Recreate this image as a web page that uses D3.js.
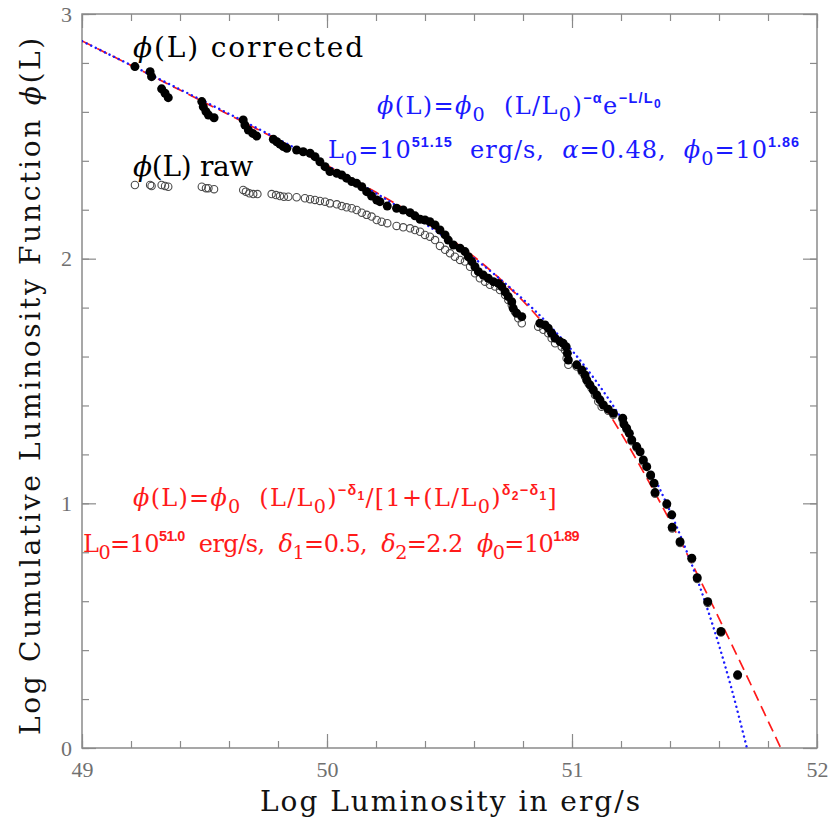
<!DOCTYPE html>
<html><head><meta charset="utf-8">
<script src="https://cdn.jsdelivr.net/npm/d3@7"></script>
<style>body{margin:0;background:#fff}text{white-space:pre}</style>
</head><body>
<svg id="c" width="829" height="821"></svg>
<script>
// ---- data (log L, log cumulative phi) ----
const lumCorr = [49.216,49.278,49.284,49.325,49.339,49.352,49.489,49.495,49.506,49.516,49.539,49.658,49.665,49.679,49.697,49.713,49.781,49.795,49.808,49.822,49.836,49.876,49.903,49.931,49.951,49.971,49.992,50.012,50.040,50.060,50.080,50.101,50.121,50.142,50.162,50.182,50.203,50.216,50.246,50.284,50.311,50.339,50.359,50.380,50.400,50.420,50.441,50.461,50.482,50.495,50.516,50.543,50.563,50.577,50.591,50.604,50.618,50.638,50.658,50.679,50.699,50.713,50.727,50.740,50.754,50.760,50.774,50.795,50.869,50.890,50.903,50.917,50.931,50.951,50.964,50.976,50.981,50.985,51.019,51.040,51.053,51.060,51.073,51.087,51.101,51.114,51.128,51.148,51.169,51.207,51.212,51.223,51.234,51.244,51.264,51.278,51.291,51.305,51.321,51.335,51.339,51.387,51.407,51.409,51.441,51.489,51.511,51.554,51.608,51.676];
const phiCorr = [2.785,2.764,2.744,2.694,2.676,2.658,2.642,2.621,2.601,2.587,2.576,2.567,2.546,2.526,2.512,2.501,2.488,2.478,2.468,2.458,2.451,2.444,2.437,2.431,2.417,2.396,2.376,2.356,2.349,2.342,2.329,2.315,2.308,2.294,2.274,2.256,2.240,2.233,2.215,2.206,2.199,2.188,2.175,2.161,2.158,2.151,2.138,2.117,2.097,2.076,2.056,2.043,2.029,2.008,1.988,1.967,1.947,1.933,1.920,1.906,1.899,1.886,1.865,1.845,1.824,1.797,1.777,1.763,1.736,1.729,1.716,1.695,1.675,1.661,1.654,1.640,1.613,1.586,1.566,1.545,1.525,1.504,1.484,1.463,1.443,1.423,1.402,1.385,1.368,1.348,1.324,1.307,1.286,1.259,1.232,1.211,1.177,1.150,1.116,1.082,1.044,0.998,0.953,0.902,0.843,0.776,0.696,0.598,0.476,0.299];
const lumRaw = [49.216,49.278,49.284,49.325,49.339,49.352,49.489,49.506,49.516,49.539,49.658,49.669,49.683,49.699,49.716,49.774,49.792,49.808,49.824,49.842,49.876,49.910,49.931,49.951,49.971,49.992,50.012,50.040,50.060,50.080,50.101,50.121,50.142,50.162,50.182,50.203,50.223,50.246,50.284,50.311,50.339,50.359,50.380,50.400,50.420,50.441,50.461,50.482,50.502,50.522,50.543,50.563,50.584,50.604,50.624,50.645,50.665,50.686,50.706,50.727,50.740,50.754,50.767,50.781,50.795,50.862,50.883,50.903,50.917,50.931,50.958,50.971,50.978,50.985,51.019,51.040,51.053,51.067,51.080,51.094,51.107,51.121,51.148,51.169,51.207,51.223,51.244,51.264,51.291,51.321,51.339,51.387,51.409,51.441,51.489,51.511,51.554,51.608,51.676];
const phiRaw = [2.301,2.301,2.297,2.301,2.297,2.294,2.294,2.288,2.288,2.284,2.281,2.274,2.267,2.264,2.264,2.264,2.260,2.256,2.253,2.253,2.251,2.247,2.243,2.240,2.236,2.233,2.226,2.222,2.215,2.210,2.206,2.199,2.188,2.179,2.172,2.158,2.151,2.145,2.134,2.128,2.124,2.117,2.110,2.097,2.090,2.076,2.052,2.036,2.022,2.008,1.995,1.988,1.967,1.940,1.920,1.906,1.893,1.886,1.872,1.852,1.831,1.811,1.783,1.756,1.736,1.722,1.709,1.695,1.675,1.654,1.640,1.627,1.593,1.566,1.559,1.538,1.518,1.491,1.470,1.443,1.416,1.395,1.378,1.362,1.341,1.302,1.254,1.227,1.171,1.112,1.039,0.994,0.897,0.838,0.771,0.691,0.593,0.472,0.295];
// fitted curves as drawn (exponential cut-off: blue; broken power law: red)
const fitExpL   = [49.0,49.2,49.4,49.6,49.8,50.0,50.1,50.2,50.3,50.4,50.5,50.6,50.7,50.8,50.9,51.0,51.1,51.2,51.25,51.3,51.35,51.4,51.45,51.5,51.55,51.6,51.65,51.7,51.714];
const fitExpPhi = [2.889,2.791,2.692,2.592,2.489,2.381,2.325,2.267,2.207,2.143,2.075,2.002,1.922,1.834,1.736,1.625,1.497,1.349,1.265,1.175,1.076,0.968,0.849,0.720,0.577,0.420,0.247,0.055,0.0];
const fitBplL   = [49.0,49.2,49.4,49.6,49.8,50.0,50.1,50.2,50.3,50.4,50.5,50.6,50.7,50.8,50.9,51.0,51.1,51.2,51.3,51.4,51.5,51.6,51.7,51.8,51.852];
const fitBplPhi = [2.890,2.790,2.689,2.588,2.486,2.381,2.327,2.271,2.213,2.150,2.083,2.008,1.923,1.827,1.716,1.589,1.446,1.287,1.113,0.928,0.733,0.530,0.323,0.111,0.0];
const xTicks = [49,50,51,52];
const yTicks = [0,1,2,3];
const xTitle = "Log Luminosity in erg/s";
const PHI = "\u03d5";

// ---- layout ----
const W = 829, H = 821;
const m = {l:82, r:12, t:14, b:73};
const svg = d3.select('#c');
const x = d3.scaleLinear().domain([49,52]).range([m.l, W-m.r]);
const y = d3.scaleLinear().domain([0,3]).range([H-m.b, m.t]);
const axisCol = '#8a8a8a';
const serif = 'DejaVu Serif';

svg.append('clipPath').attr('id','clip').append('rect')
  .attr('x',m.l).attr('y',m.t).attr('width',W-m.l-m.r).attr('height',H-m.t-m.b);

// minor ticks
const xMinor = d3.range(49,52.001,0.2).map(v=>+v.toFixed(2));
const yMinor = d3.range(0,3.001,0.2).map(v=>+v.toFixed(2));
function drawAxis(axisGen, tr, vals, size, fmt) {
  const g = svg.append('g').attr('transform',tr)
    .call(axisGen.tickValues(vals).tickSize(size).tickFormat(fmt||''));
  g.select('.domain').remove();
  g.selectAll('line').attr('stroke',axisCol).attr('stroke-width',1.2);
  return g;
}
const bottomY = H-m.b, rightX = W-m.r;
drawAxis(d3.axisBottom(x), `translate(0,${bottomY})`, xMinor, -7);
drawAxis(d3.axisTop(x), `translate(0,${m.t})`, xMinor, -7);
drawAxis(d3.axisLeft(y), `translate(${m.l},0)`, yMinor, -7);
drawAxis(d3.axisRight(y), `translate(${rightX},0)`, yMinor, -7);
const gxb = drawAxis(d3.axisBottom(x), `translate(0,${bottomY})`, xTicks, -14, d3.format('d'));
drawAxis(d3.axisTop(x), `translate(0,${m.t})`, xTicks, -14);
const gyl = drawAxis(d3.axisLeft(y), `translate(${m.l},0)`, yTicks, -14, d3.format('d'));
drawAxis(d3.axisRight(y), `translate(${rightX},0)`, yTicks, -14);
gxb.selectAll('text').attr('y',13).attr('dy','0.71em')
  .style('font-family','Liberation Serif').style('font-size','22px').attr('fill','#707070');
gyl.selectAll('text').attr('x',-10)
  .style('font-family','Liberation Serif').style('font-size','22px').attr('fill','#707070');

svg.append('rect').attr('x',m.l).attr('y',m.t).attr('width',W-m.l-m.r).attr('height',H-m.t-m.b)
  .attr('fill','none').attr('stroke',axisCol).attr('stroke-width',1.5);

// fitted lines
const plot = svg.append('g').attr('clip-path','url(#clip)');
const line = d3.line().x(d=>x(d[0])).y(d=>y(d[1])).curve(d3.curveMonotoneX);
plot.append('path').datum(fitBplL.map((v,i)=>[v,fitBplPhi[i]]))
  .attr('d',line).attr('fill','none').attr('stroke','#ff1a1a').attr('stroke-width',1.7)
  .attr('stroke-dasharray','11,6');
plot.append('path').datum(fitExpL.map((v,i)=>[v,fitExpPhi[i]]))
  .attr('d',line).attr('fill','none').attr('stroke','#1a1aff').attr('stroke-width',2.4)
  .attr('stroke-linecap','round').attr('stroke-dasharray','0.1,5');

// raw points (open)
plot.append('g').selectAll('circle').data(lumRaw.map((v,i)=>[v,phiRaw[i]])).join('circle')
  .attr('cx',d=>x(d[0])).attr('cy',d=>y(d[1])).attr('r',3.7)
  .attr('fill','none').attr('stroke','#4a4a4a').attr('stroke-width',1.1);
// corrected points (filled)
plot.append('g').selectAll('circle').data(lumCorr.map((v,i)=>[v,phiCorr[i]])).join('circle')
  .attr('cx',d=>x(d[0])).attr('cy',d=>y(d[1])).attr('r',4.5).attr('fill','#000');

// ---- rich text helper ----
function rich(sel, segs, size, color, target) {
  const t = sel.attr('fill',color).style('font-family',serif).style('font-size',size+'px');
  let cur = 0;
  const offs = {n:0, it:0, sub:0.3, sup:-0.45, ssub:-0.25};
  const sizes = {n:1, it:1, sub:0.8, sup:0.6, ssub:0.5};
  segs.forEach(([str, kind]) => {
    kind = kind || 'n';
    const off = offs[kind]*size;
    const sp = t.append('tspan').attr('dy', off-cur).style('font-size',(sizes[kind]*size)+'px').text(str);
    if (kind==='sup' || kind==='ssub') sp.style('font-family','Liberation Sans').style('font-weight','bold');
    if (kind==='it') sp.style('font-style','italic');
    cur = off;
  });
  if (target) fit(t, target);
  return t;
}
function at(x0,y0){ return svg.append('text').attr('x',x0).attr('y',y0); }
function fit(t, target) {
  const w = t.node().getComputedTextLength();
  const n = t.text().length;
  if (n>1) t.style('letter-spacing', ((target-w)/n)+'px');
}

rich(at(133, 57), [[PHI,'it'],['(L) corrected']], 28, '#000', 232);
rich(at(133, 176), [[PHI,'it'],['(L) raw']], 28, '#000', 120);

rich(at(377, 114), [[PHI,'it'],['(L)='],[PHI,'it'],['0','sub'],['  (L/L'],['0','sub'],[')'],['\u2212\u03b1','sup'],['e'],['\u2212L/L','sup'],['0','ssub']], 24, '#1a1aff', 285);
rich(at(328, 158), [['L'],['0','sub'],['=10'],['51.15','sup'],['  erg/s,  '],['\u03b1','it'],['=0.48,  '],[PHI,'it'],['0','sub'],['=10'],['1.86','sup']], 24, '#1a1aff', 472);

rich(at(133, 506), [[PHI,'it'],['(L)='],[PHI,'it'],['0','sub'],['  (L/L'],['0','sub'],[')'],['\u2212\u03b4','sup'],['1','ssub'],['/[1+(L/L'],['0','sub'],[')'],['\u03b4','sup'],['2','ssub'],['\u2212\u03b4','sup'],['1','ssub'],[']']], 24, '#ff1a1a', 425);
rich(at(83, 552), [['L'],['0','sub'],['=10'],['51.0','sup'],['  erg/s,  '],['\u03b4','it'],['1','sub'],['=0.5,  '],['\u03b4','it'],['2','sub'],['=2.2  '],[PHI,'it'],['0','sub'],['=10'],['1.89','sup']], 24, '#ff1a1a', 496);

// axis titles
const xt = svg.append('text').attr('x',451).attr('y',811).attr('text-anchor','middle')
  .style('font-family',serif).style('font-size','28px').attr('fill','#111').text(xTitle);
fit(xt, 382);
const yt = rich(svg.append('text').attr('transform','translate(40,385) rotate(-90)').attr('text-anchor','middle'),
  [['Log Cumulative Luminosity Function '],[PHI,'it'],['(L)']], 28, '#111', 700);
</script>
</body></html>
